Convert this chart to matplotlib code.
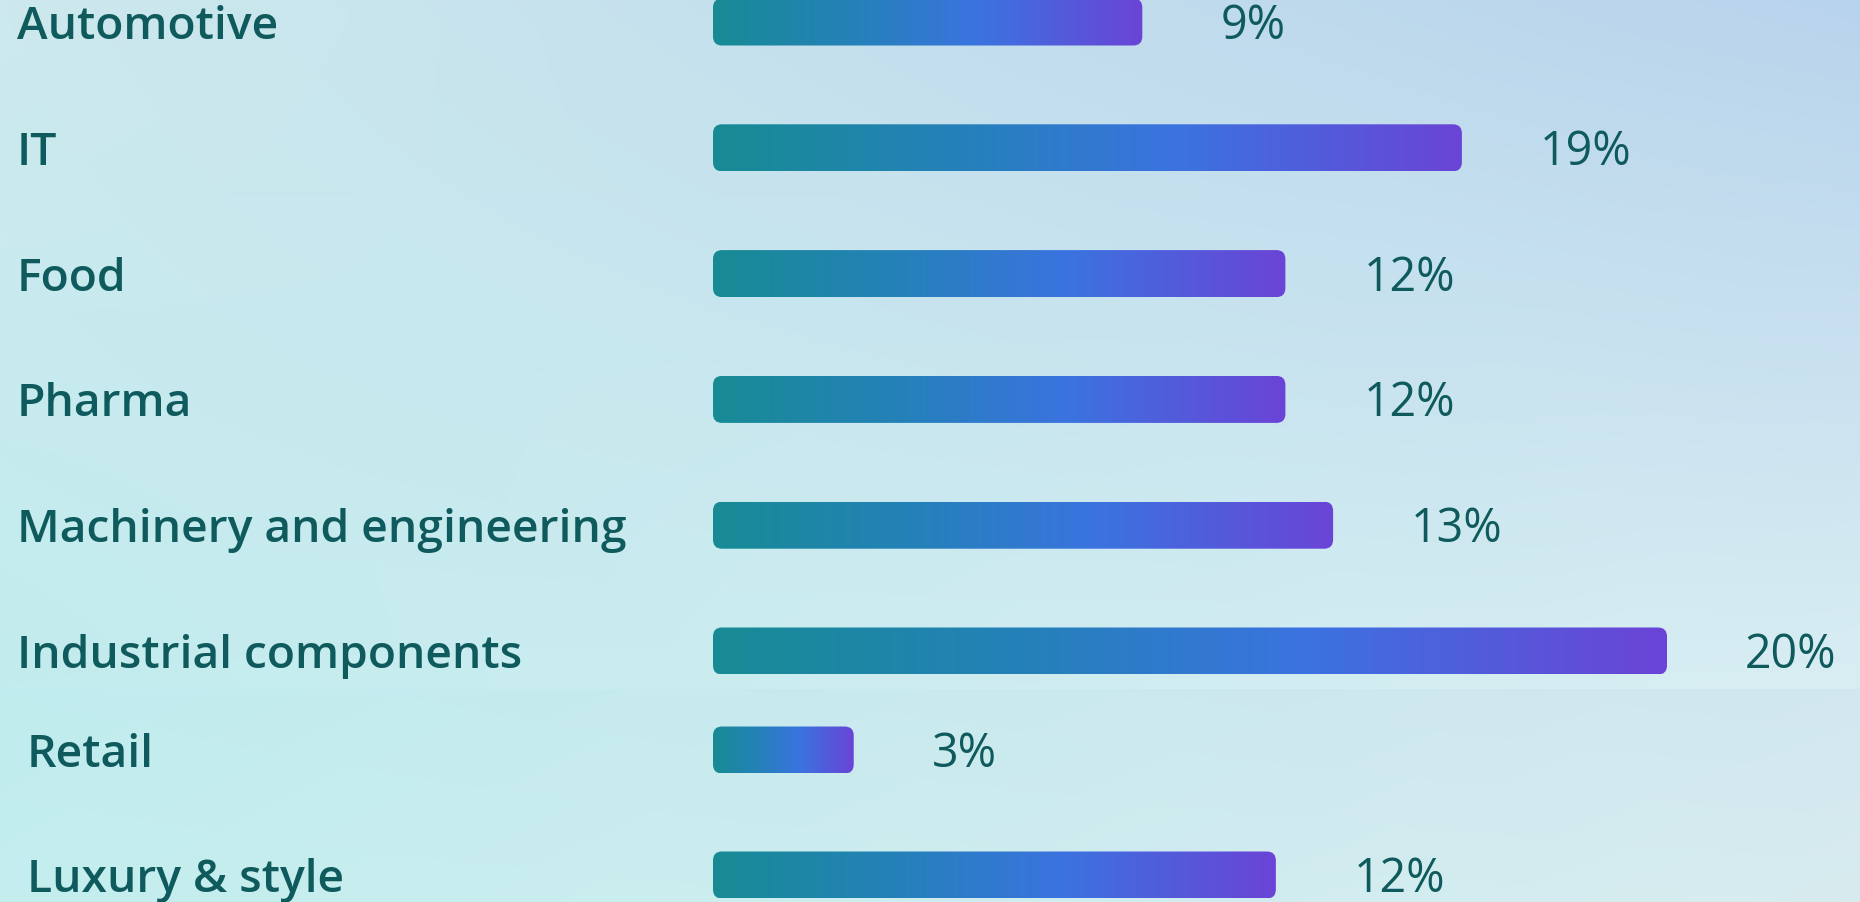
import numpy as np
import matplotlib
matplotlib.use("Agg")
import matplotlib.pyplot as plt
from matplotlib.colors import LinearSegmentedColormap
from matplotlib.patches import FancyBboxPatch
from matplotlib.transforms import blended_transform_factory, offset_copy

# Data (two stacked panels, as in the reference)
top_sectors = ["Automotive", "IT", "Food", "Pharma",
               "Machinery and engineering", "Industrial components"]
top_lengths = [9, 15.7, 12, 12, 13, 20]        # bar lengths as drawn
top_labels = ["9%", "19%", "12%", "12%", "13%", "20%"]

bottom_sectors = ["Retail", "Luxury & style"]
bottom_lengths = [2.95, 11.8]
bottom_labels = ["3%", "12%"]

W, H = 1860, 903
TEXT = "#0e5a5c"
FONT = ["Open Sans", "DejaVu Sans"]
bar_cmap = LinearSegmentedColormap.from_list(
    "bar", [(0.0, "#178b94"), (0.35, "#2680bc"), (0.62, "#3b73e0"), (1.0, "#6a44d6")])

fig = plt.figure(figsize=(W / 100, H / 100), dpi=100)


def corner_gradient(tl, tr, bl, br, h, w):
    tl, tr, bl, br = [np.array(c, float) / 255 for c in (tl, tr, bl, br)]
    yy = np.linspace(0, 1, h)[:, None, None]
    xx = np.linspace(0, 1, w)[None, :, None]
    top = tl * (1 - xx) + tr * xx
    bot = bl * (1 - xx) + br * xx
    return top * (1 - yy) + bot * yy


# background: upper panel and lower panel with a faint seam
seam = 690
bg = np.zeros((H, W, 3))
bg[:seam] = corner_gradient((205, 233, 238), (184, 211, 236),
                            (194, 236, 238), (217, 238, 243), seam, W)
bg[seam:] = corner_gradient((192, 236, 238), (210, 231, 239),
                            (196, 238, 238), (216, 236, 240), H - seam, W)
ax_bg = fig.add_axes([0, 0, 1, 1])
ax_bg.imshow(bg, aspect="auto", extent=(0, W, H, 0))
ax_bg.axis("off")

px_per_pct = 47.7
x0 = 713
xmax = (W - x0) / px_per_pct


def panel(sectors, lengths, labels, first_center, spacing, label_x):
    n = len(sectors)
    top_px = first_center - spacing / 2
    bot_px = first_center + spacing * (n - 0.5)
    ax = fig.add_axes([x0 / W, 1 - bot_px / H, (W - x0) / W, (bot_px - top_px) / H])
    ax.set_xlim(0, xmax)
    ax.set_ylim(n - 0.5, -0.5)
    ax.axis("off")
    ax.patch.set_alpha(0)

    bar_h = 47 / spacing
    aspect = px_per_pct / spacing
    grad = np.linspace(0, 1, 256)[None, :]
    for i, v in enumerate(lengths):
        box = FancyBboxPatch((0, i - bar_h / 2), v, bar_h,
                             boxstyle="round,pad=0,rounding_size=%.4f" % (9 / px_per_pct),
                             mutation_aspect=aspect, facecolor="none",
                             edgecolor="none", transform=ax.transData)
        ax.add_patch(box)
        im = ax.imshow(grad, cmap=bar_cmap, aspect="auto", interpolation="bilinear",
                       extent=(0, v, i + bar_h / 2, i - bar_h / 2))
        im.set_clip_path(box)

    base = offset_copy(ax.transData, fig=fig, x=78, y=-16, units="dots")
    for i, (v, lab) in enumerate(zip(lengths, labels)):
        ax.text(v, i, lab, transform=base, ha="left", va="baseline",
                fontsize=33.5, color=TEXT, family=FONT, clip_on=False)

    left = offset_copy(blended_transform_factory(fig.transFigure, ax.transData),
                       fig=fig, y=-16, units="dots")
    for i, name in enumerate(sectors):
        ax.text(label_x / W, i, name, transform=left, ha="left", va="baseline",
                fontsize=33.3, color=TEXT, family=FONT, fontweight="semibold",
                clip_on=False)
    return ax


panel(top_sectors, top_lengths, top_labels, 23, 125.8, 17)
panel(bottom_sectors, bottom_lengths, bottom_labels, 751, 125, 27)

fig.savefig("out.png", dpi=100)
